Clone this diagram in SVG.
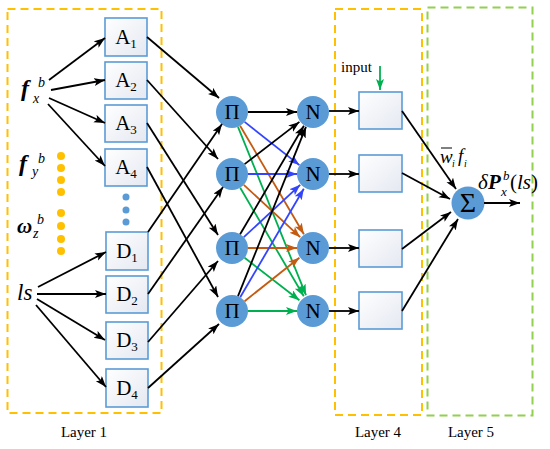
<svg xmlns="http://www.w3.org/2000/svg" width="550" height="449" viewBox="0 0 550 449" font-family="'Liberation Serif', 'Times New Roman', serif">
<defs>
<linearGradient id="bx" x1="0" y1="0" x2="1" y2="1">
<stop offset="0" stop-color="#ffffff"/>
<stop offset="1" stop-color="#e4e8f1"/>
</linearGradient>
<marker id="ak" markerUnits="userSpaceOnUse" markerWidth="12" markerHeight="9" refX="11" refY="4" orient="auto"><path d="M0,0 L11,4 L0,8 L2.5,4 z" fill="#000"/></marker>
<marker id="ab" markerUnits="userSpaceOnUse" markerWidth="12" markerHeight="9" refX="11" refY="4" orient="auto"><path d="M0,0 L11,4 L0,8 L2.5,4 z" fill="#3344ff"/></marker>
<marker id="ao" markerUnits="userSpaceOnUse" markerWidth="12" markerHeight="9" refX="11" refY="4" orient="auto"><path d="M0,0 L11,4 L0,8 L2.5,4 z" fill="#c55a11"/></marker>
<marker id="ag" markerUnits="userSpaceOnUse" markerWidth="12" markerHeight="9" refX="11" refY="4" orient="auto"><path d="M0,0 L11,4 L0,8 L2.5,4 z" fill="#00b050"/></marker>
<style>
.layer{fill:none;stroke-width:2;stroke-dasharray:8 5}
.y{stroke:#ffc000}
.g{stroke:#92d050}
.box rect{fill:url(#bx);stroke:#5b9bd5;stroke-width:1.6}
.node circle{fill:#5b9bd5}
text{font-family:'Liberation Serif','Times New Roman',serif;fill:#000}
.lbl{font-size:21px;text-anchor:middle}
.sub{font-size:13px}
.cap{font-size:15px;text-anchor:middle}
.conn line{stroke-width:1.8;fill:none}
.k{stroke:#000;marker-end:url(#ak)}
.b{stroke:#3344ff;marker-end:url(#ab)}
.o{stroke:#c55a11;marker-end:url(#ao)}
.gr{stroke:#00b050;marker-end:url(#ag)}
.ydot{fill:#ffc000}
.bdot{fill:#5b9bd5}
</style>
</defs>
<rect width="550" height="449" fill="#fff"/>

<g id="layers">
<rect class="layer y" x="7.5" y="9" width="154" height="404"/>
<rect class="layer y" x="335" y="9" width="87" height="406"/>
<rect class="layer g" x="427.5" y="7.5" width="105" height="408"/>
<text class="cap" x="84" y="437">Layer 1</text>
<text class="cap" x="378" y="437">Layer 4</text>
<text class="cap" x="471" y="437">Layer 5</text>
</g>

<g id="inputs">
<text x="21" y="96" font-size="24" font-style="italic" font-weight="bold">f</text>
<text x="38" y="87" font-size="14" font-style="italic">b</text>
<text x="33" y="103" font-size="14" font-style="italic">x</text>
<text x="19" y="171" font-size="24" font-style="italic" font-weight="bold">f</text>
<text x="38" y="163" font-size="14" font-style="italic">b</text>
<text x="32" y="176" font-size="14" font-style="italic">y</text>
<text x="17" y="233" font-size="21" font-style="italic" font-weight="bold">ω</text>
<text x="37" y="224" font-size="14" font-style="italic">b</text>
<text x="33" y="238" font-size="14" font-style="italic">z</text>
<text x="17" y="300" font-size="23" font-style="italic">ls</text>
<g class="ydot">
<circle cx="61" cy="156" r="4"/><circle cx="61" cy="168" r="4"/><circle cx="61" cy="180" r="4"/><circle cx="61" cy="192" r="4"/>
<circle cx="61" cy="213" r="4"/><circle cx="61" cy="226" r="4"/><circle cx="61" cy="239" r="4"/><circle cx="61" cy="251" r="4"/>
</g>
<g class="bdot">
<circle cx="126" cy="197" r="3.5"/><circle cx="126" cy="210" r="3.5"/><circle cx="126" cy="222" r="3.5"/>
</g>
</g>

<g id="A1" class="box"><rect x="105" y="18" width="42" height="38"/><text class="lbl" x="126" y="44">A<tspan class="sub" dy="4">1</tspan></text></g>
<g id="A2" class="box"><rect x="105" y="62" width="42" height="37"/><text class="lbl" x="126" y="87">A<tspan class="sub" dy="4">2</tspan></text></g>
<g id="A3" class="box"><rect x="105" y="105" width="42" height="37"/><text class="lbl" x="126" y="130">A<tspan class="sub" dy="4">3</tspan></text></g>
<g id="A4" class="box"><rect x="105" y="149" width="42" height="37"/><text class="lbl" x="126" y="174">A<tspan class="sub" dy="4">4</tspan></text></g>
<g id="D1" class="box"><rect x="106" y="232" width="42" height="38"/><text class="lbl" x="127" y="258">D<tspan class="sub" dy="4">1</tspan></text></g>
<g id="D2" class="box"><rect x="106" y="276" width="42" height="37"/><text class="lbl" x="127" y="301">D<tspan class="sub" dy="4">2</tspan></text></g>
<g id="D3" class="box"><rect x="106" y="322" width="42" height="37"/><text class="lbl" x="127" y="347">D<tspan class="sub" dy="4">3</tspan></text></g>
<g id="D4" class="box"><rect x="106" y="369" width="42" height="38"/><text class="lbl" x="127" y="395">D<tspan class="sub" dy="4">4</tspan></text></g>

<g id="P1" class="node"><circle cx="232" cy="112" r="16"/><text class="lbl" x="232" y="119">Π</text></g>
<g id="P2" class="node"><circle cx="232" cy="174" r="16"/><text class="lbl" x="232" y="181">Π</text></g>
<g id="P3" class="node"><circle cx="232" cy="248" r="16"/><text class="lbl" x="232" y="255">Π</text></g>
<g id="P4" class="node"><circle cx="232" cy="311" r="16"/><text class="lbl" x="232" y="318">Π</text></g>

<g id="N1" class="node"><circle cx="313" cy="112" r="16"/><text class="lbl" x="313" y="119">N</text></g>
<g id="N2" class="node"><circle cx="313" cy="174" r="16"/><text class="lbl" x="313" y="181">N</text></g>
<g id="N3" class="node"><circle cx="313" cy="248" r="16"/><text class="lbl" x="313" y="255">N</text></g>
<g id="N4" class="node"><circle cx="313" cy="311" r="16"/><text class="lbl" x="313" y="318">N</text></g>

<g id="B1" class="box"><rect x="359" y="92" width="43" height="37"/></g>
<g id="B2" class="box"><rect x="359" y="155" width="43" height="37"/></g>
<g id="B3" class="box"><rect x="359" y="230" width="43" height="37"/></g>
<g id="B4" class="box"><rect x="359" y="292" width="43" height="37"/></g>

<g id="S" class="node"><circle cx="468" cy="203" r="16.5"/><text x="468" y="212" font-size="28" text-anchor="middle">Σ</text></g>

<g id="labels">
<text x="341" y="72" font-size="15">input</text>
<text x="440" y="163" font-size="19" font-style="italic">w</text>
<line x1="441" y1="148" x2="452" y2="148" stroke="#000" stroke-width="1"/>
<text x="452" y="167" font-size="10" font-style="italic">i</text>
<text x="458" y="162" font-size="19" font-style="italic">f</text>
<text x="464" y="167" font-size="10" font-style="italic">i</text>
<text x="478" y="189" font-size="21" font-style="italic">δ</text>
<text x="488" y="189" font-size="21" font-style="italic" font-weight="bold">P</text>
<text x="503" y="180" font-size="13" font-style="italic">b</text>
<text x="501" y="196" font-size="13" font-style="italic">x</text>
<text x="510" y="189" font-size="21">(<tspan font-style="italic">ls</tspan>)</text>
</g>

<g id="connectors" class="conn">
<line class="k" x1="49" y1="80" x2="105" y2="38"/>
<line class="k" x1="51" y1="90" x2="105" y2="80"/>
<line class="k" x1="49" y1="98" x2="105" y2="123"/>
<line class="k" x1="48" y1="104" x2="105" y2="166"/>
<line class="k" x1="38" y1="287" x2="106" y2="252"/>
<line class="k" x1="37" y1="294" x2="106" y2="294"/>
<line class="k" x1="37" y1="299" x2="105" y2="340"/>
<line class="k" x1="36" y1="305" x2="106" y2="387"/>

<line class="k" x1="147" y1="37" x2="219" y2="98"/>
<line class="k" x1="147" y1="80" x2="218" y2="159"/>
<line class="k" x1="147" y1="123" x2="218" y2="235"/>
<line class="k" x1="147" y1="167" x2="218" y2="297"/>
<line class="k" x1="148" y1="232" x2="222" y2="124"/>
<line class="k" x1="148" y1="294" x2="223" y2="187"/>
<line class="k" x1="148" y1="342" x2="218" y2="261"/>
<line class="k" x1="148" y1="388" x2="219" y2="324"/>

<line class="k" x1="248" y1="112" x2="297" y2="112"/>
<line class="b" x1="244.6" y1="121.9" x2="299.4" y2="165.1"/>
<line class="o" x1="240.1" y1="125.8" x2="303.9" y2="234.2"/>
<line class="gr" x1="238" y1="126.8" x2="306" y2="295.2"/>

<line class="k" x1="244.6" y1="164.1" x2="299.4" y2="121.9"/>
<line class="b" x1="248" y1="174" x2="297" y2="174"/>
<line class="o" x1="243.8" y1="184.8" x2="300.2" y2="237.2"/>
<line class="gr" x1="240.2" y1="187.8" x2="303.8" y2="296.2"/>

<line class="k" x1="240.1" y1="234.2" x2="303.9" y2="125.8"/>
<line class="b" x1="243.8" y1="237.2" x2="300.2" y2="184.8"/>
<line class="o" x1="248" y1="248" x2="297" y2="248"/>
<line class="gr" x1="244.6" y1="257.8" x2="299.4" y2="300.2"/>

<line class="k" x1="238" y1="296.2" x2="306" y2="126.8"/>
<line class="b" x1="240.2" y1="297.2" x2="303.8" y2="188.8"/>
<line class="o" x1="244.6" y1="301.2" x2="299.4" y2="257.8"/>
<line class="gr" x1="248" y1="311" x2="297" y2="311"/>

<line class="k" x1="329" y1="111" x2="359" y2="111"/>
<line class="k" x1="329" y1="174" x2="359" y2="174"/>
<line class="k" x1="329" y1="248" x2="359" y2="248"/>
<line class="k" x1="329" y1="311" x2="359" y2="311"/>

<line class="gr" x1="380" y1="66" x2="380" y2="90"/>

<line class="k" x1="402" y1="111" x2="456" y2="189"/>
<line class="k" x1="402" y1="173" x2="450" y2="199"/>
<line class="k" x1="402" y1="249" x2="451" y2="212"/>
<line class="k" x1="402" y1="311" x2="458" y2="219"/>
<line class="k" x1="484" y1="203" x2="520" y2="203"/>
</g>
</svg>
